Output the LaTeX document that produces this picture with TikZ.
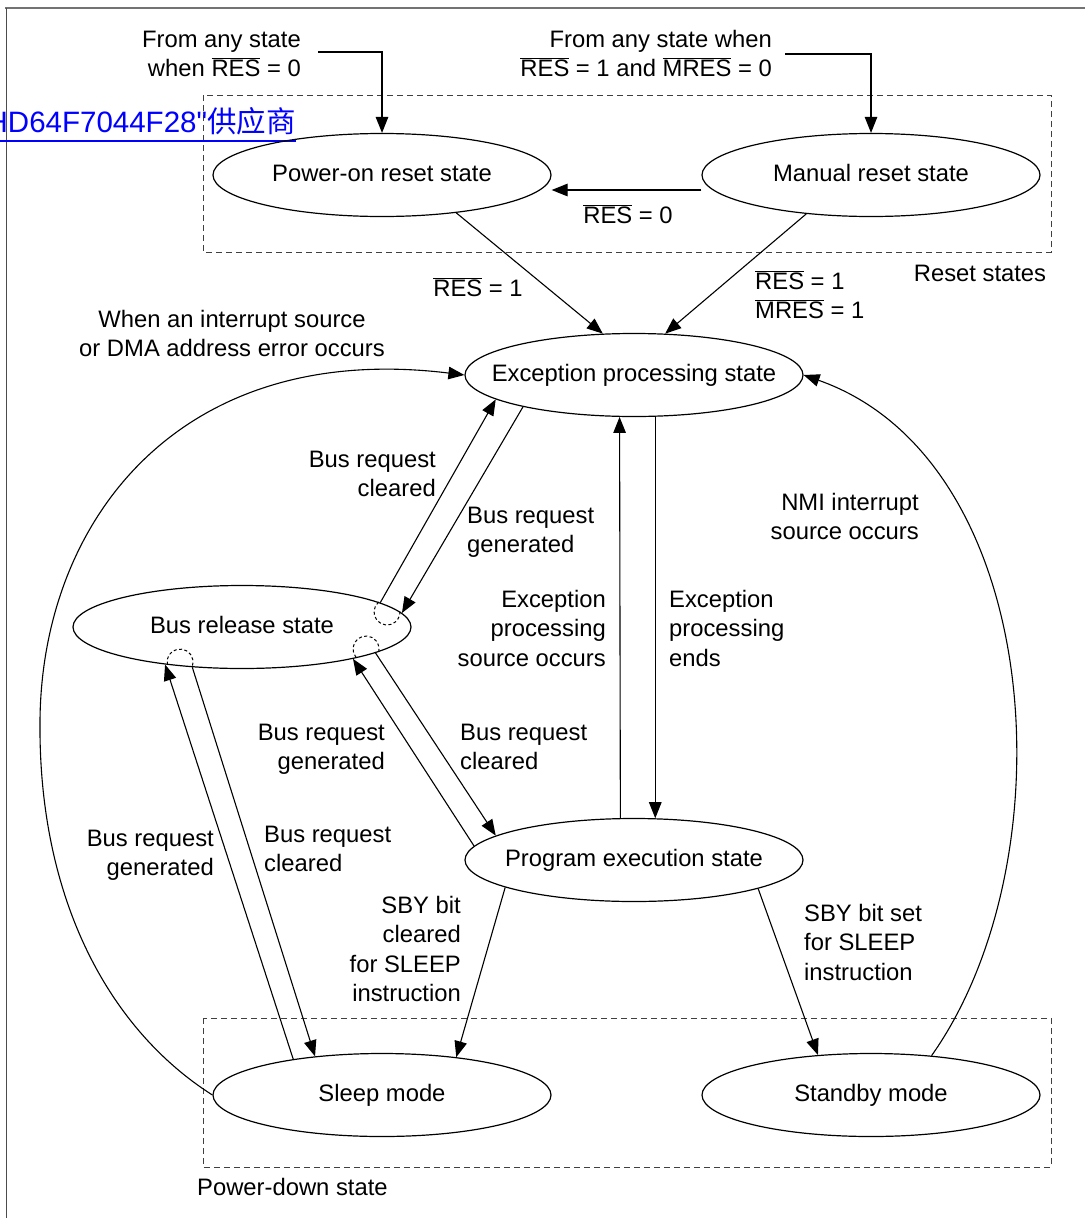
\documentclass[tikz,border=0pt]{standalone}
\usepackage{fontspec}
\setmainfont{Liberation Sans}
\newfontfamily\wmfont[Ligatures=TeXOff]{Liberation Sans}
\newfontfamily\cjk{Noto Sans CJK SC}
\usetikzlibrary{arrows.meta,shapes.geometric,calc}
\newcommand\ovl[1]{$\overline{\mbox{#1}}$}
\newcommand\linesR[1]{\begin{tabular}[t]{@{}r@{}}#1\end{tabular}}
\newcommand\linesL[1]{\begin{tabular}[t]{@{}l@{}}#1\end{tabular}}
\newcommand\linesC[1]{\begin{tabular}[t]{@{}c@{}}#1\end{tabular}}
\newcommand\stxt[1]{\makebox[0pt]{#1}}
\begin{document}
\begin{tikzpicture}[x=1pt,y=-1pt,
  font=\fontsize{23.8}{29.5}\selectfont,
  state/.style={ellipse, draw, line width=1.2pt, minimum width=338pt, minimum height=83pt,
    inner sep=0pt, text height=17pt, text depth=5pt},
  lbl/.style={inner sep=0pt},
  conn/.style={line width=1.1pt, -{Triangle[length=16pt,width=12.5pt]}},
  groupbox/.style={dash pattern=on 6pt off 4pt, line width=1pt, draw=black!75},
  hidden/.style={dash pattern=on 3pt off 2.5pt, line width=1pt}]
\useasboundingbox (0,0) rectangle (1085,1218);
% frame
\draw[line width=2pt, black!55] (5,8.3) -- (1085,8.3);
\draw[line width=1.3pt, black!70] (6.7,8) -- (6.7,1218);
% group boxes
\draw[groupbox] (203,95) rectangle (1051,252);
\draw[groupbox] (203,1018) rectangle (1051,1167);
% watermark
\node[anchor=base west, inner sep=0pt, text=blue, font=\fontsize{29.5}{30}\wmfont] (wm) at (-13.5,132) {HD64F7044F28"{\cjk 供应商}};
\draw[blue, line width=2pt] ([yshift=-9pt]wm.base west) -- ([yshift=-9pt]wm.base east);
% states
\node[state] (PO) at (382,175) {\stxt{Power-on reset state}};
\node[state] (MR) at (871,175) {\stxt{Manual reset state}};
\node[state] (EX) at (634,375) {\stxt{Exception processing state}};
\node[state] (BR) at (242,627) {\stxt{Bus release state}};
\node[state] (PE) at (634,860) {\stxt{Program execution state}};
\node[state] (SL) at (382,1095) {\stxt{Sleep mode}};
\node[state] (SB) at (871,1095) {\stxt{Standby mode}};
% labels
\node[lbl, anchor=base east] (tA) at (301,47) {\linesR{From any state\\when \ovl{RES} = 0}};
\node[lbl, anchor=base east] (tB) at (772,47) {\linesR{From any state when\\\ovl{RES} = 1 and \ovl{MRES} = 0}};
\node[lbl, anchor=base] (tC) at (628,223) {\ovl{RES} = 0};
\node[lbl, anchor=base] (tD) at (478,296) {\ovl{RES} = 1};
\node[lbl, anchor=base west] (tE) at (755,289) {\linesL{\ovl{RES} = 1\\\ovl{MRES} = 1}};
\node[lbl, anchor=base] (tF) at (980,281) {Reset states};
\node[lbl, anchor=base] (tG) at (232,327) {\linesC{When an interrupt source\\or DMA address error occurs}};
\node[lbl, anchor=base east] (tH) at (436,467) {\linesR{Bus request\\cleared}};
\node[lbl, anchor=base west] (tI) at (467,523) {\linesL{Bus request\\generated}};
\node[lbl, anchor=base east] (tJ) at (919,510) {\linesR{NMI interrupt\\source occurs}};
\node[lbl, anchor=base east] (tK) at (606,607) {\linesR{Exception\\processing\\source occurs}};
\node[lbl, anchor=base west] (tL) at (669,607) {\linesL{Exception\\processing\\ends}};
\node[lbl, anchor=base east] (tM) at (385,740) {\linesR{Bus request\\generated}};
\node[lbl, anchor=base west] (tN) at (460,740) {\linesL{Bus request\\cleared}};
\node[lbl, anchor=base east] (tO) at (214,846) {\linesR{Bus request\\generated}};
\node[lbl, anchor=base west] (tP) at (264,842) {\linesL{Bus request\\cleared}};
\node[lbl, anchor=base east] (tQ) at (461,913) {\linesR{SBY bit\\cleared\\for SLEEP\\instruction}};
\node[lbl, anchor=base west] (tR) at (804,921) {\linesL{SBY bit set\\for SLEEP\\instruction}};
\node[lbl, anchor=base west] (tS) at (197,1195) {Power-down state};
% connectors
\coordinate (s1) at (318,52);
\coordinate (s2) at (785,54);
\draw[conn] (s1) -| (PO.north);
\draw[conn] (s2) -| (MR.north);
\draw[conn] ([yshift=-15pt]MR.west) -- ([yshift=-15pt]PO.east);
\draw[conn] (PO.333.4) -- (EX.127.3);
\draw[conn] (MR.211.1) -- (EX.53.6);
\draw[conn] (SL.west) .. controls (110,1030) and (38,900) .. (40,720) .. controls (42,520) and (180,340) .. (EX.west);
\draw[conn] (SB.33.4) .. controls (1070,860) and (1045,460) .. (EX.east);
\draw[conn] (BR.10.9) -- (EX.190.6);
\draw[conn] (EX.196.1) -- (BR.5.9);
\draw[conn] (PE.175) -- (BR.344.7);
\draw[conn] (BR.349.5) -- (PE.170.6);
\draw[conn] (SL.158.2) -- (BR.206.4);
\draw[conn] (BR.219) -- (SL.150.5);
\draw[conn] (PE.108.7) -- (EX.251.3);
\draw[conn] (EX.297) -- (PE.63);
\draw[conn] (PE.192.8) -- (SL.27.9);
\draw[conn] (PE.347.5) -- (SB.143.4);
% hidden turn-around arcs
\draw[hidden] ($(387,612)+(230:13)$) arc[start angle=230, end angle=-11, radius=13];
\draw[hidden] ($(366,649)+(140:13)$) arc[start angle=140, end angle=375, radius=13];
\draw[hidden] ($(180,662)+(168:13)$) arc[start angle=168, end angle=377, radius=13];
\end{tikzpicture}
\end{document}
